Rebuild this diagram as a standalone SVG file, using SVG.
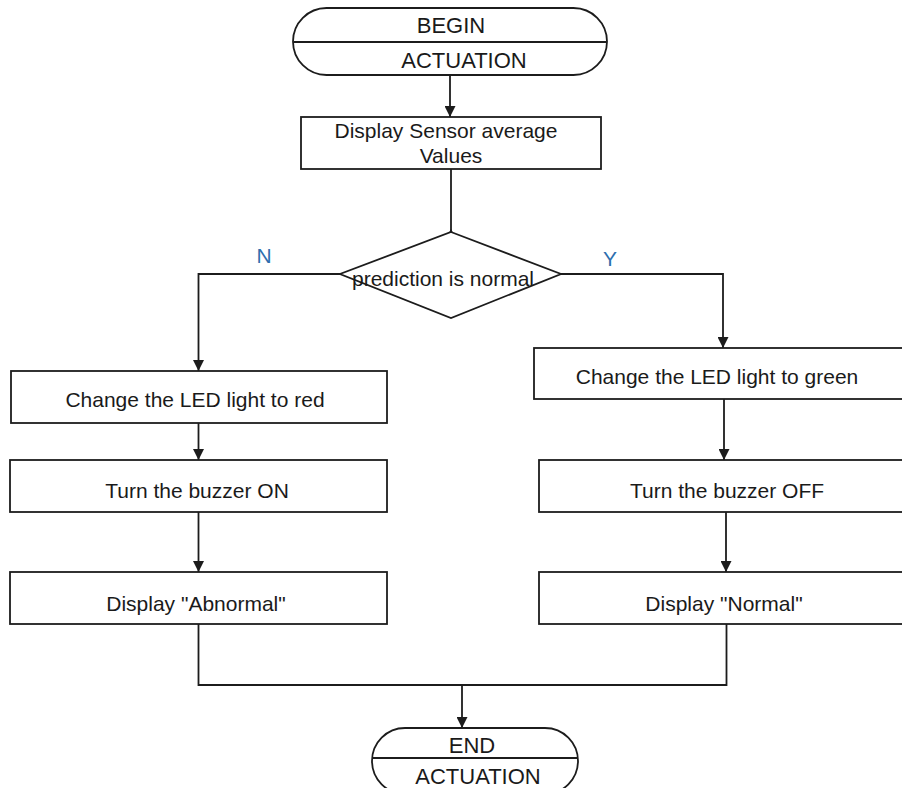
<svg xmlns="http://www.w3.org/2000/svg" width="902" height="788" viewBox="0 0 902 788">
  <style>
    .shape { fill: #ffffff; stroke: #1c1c1c; stroke-width: 1.8; }
    .line { fill: none; stroke: #1c1c1c; stroke-width: 1.8; }
    .txt { font-family: "Liberation Sans", Arial, sans-serif; font-size: 21px; fill: #1a1a1a; text-anchor: middle; }
    .term { font-size: 22px; }
    .yn { font-family: "Liberation Sans", Arial, sans-serif; font-size: 21px; fill: #2e6fae; text-anchor: middle; }
  </style>
  <defs>
    <marker id="arrow" viewBox="0 0 10 10" refX="10" refY="5" markerWidth="11" markerHeight="11" markerUnits="userSpaceOnUse" orient="auto">
      <path d="M0,0 L10,5 L0,10 z" fill="#1c1c1c"/>
    </marker>
  </defs>

  <rect width="902" height="788" fill="#ffffff"/>

  <!-- connectors -->
  <g id="connectors">
    <path class="line" d="M450,75 V117" marker-end="url(#arrow)"/>
    <path class="line" d="M451,169 V238"/>
    <polygon points="451,229 456.5,239 445.5,239" fill="#1c1c1c"/>
    <path class="line" d="M340,274 H198.5 V371" marker-end="url(#arrow)"/>
    <path class="line" d="M561,274 H723 V348" marker-end="url(#arrow)"/>
    <path class="line" d="M198.5,423 V460" marker-end="url(#arrow)"/>
    <path class="line" d="M198.5,512 V572" marker-end="url(#arrow)"/>
    <path class="line" d="M724,399 V460" marker-end="url(#arrow)"/>
    <path class="line" d="M726,512 V572" marker-end="url(#arrow)"/>
    <path class="line" d="M198.5,624 V685 H726.5 V624"/>
    <path class="line" d="M462,685 V728" marker-end="url(#arrow)"/>
    <text class="yn" x="264" y="263">N</text>
    <text class="yn" x="610" y="266">Y</text>
  </g>

  <!-- start terminal -->
  <g id="begin">
    <rect class="shape" x="293" y="8" width="314" height="67" rx="33.5" ry="33.5"/>
    <line class="line" x1="293.5" y1="42" x2="606.5" y2="42"/>
    <text class="txt term" x="451" y="33">BEGIN</text>
    <text class="txt term" x="464" y="68">ACTUATION</text>
  </g>

  <g id="display-values">
    <rect class="shape" x="301" y="117" width="300" height="52"/>
    <text class="txt" x="446" y="138">Display Sensor average</text>
    <text class="txt" x="451" y="163">Values</text>
  </g>

  <g id="decision">
    <polygon class="shape" points="451,232 561,274 451,318 340,274"/>
    <text class="txt" x="443" y="286">prediction is normal</text>
  </g>

  <g id="led-red">
    <rect class="shape" x="11" y="371" width="376" height="52"/>
    <text class="txt" x="195" y="407">Change the LED light to red</text>
  </g>

  <g id="buzzer-on">
    <rect class="shape" x="10" y="460" width="377" height="52"/>
    <text class="txt" x="197" y="498">Turn the buzzer ON</text>
  </g>

  <g id="show-abnormal">
    <rect class="shape" x="10" y="572" width="377" height="52"/>
    <text class="txt" x="196" y="611">Display "Abnormal"</text>
  </g>

  <g id="led-green">
    <rect class="shape" x="534" y="348" width="372" height="51"/>
    <text class="txt" x="717" y="384">Change the LED light to green</text>
  </g>

  <g id="buzzer-off">
    <rect class="shape" x="539" y="460" width="367" height="52"/>
    <text class="txt" x="727" y="498">Turn the buzzer OFF</text>
  </g>

  <g id="show-normal">
    <rect class="shape" x="539" y="572" width="367" height="52"/>
    <text class="txt" x="724" y="611">Display "Normal"</text>
  </g>

  <!-- end terminal -->
  <g id="end">
    <rect class="shape" x="372" y="728" width="206" height="66" rx="33" ry="33"/>
    <line class="line" x1="372.5" y1="758" x2="577.5" y2="758"/>
    <text class="txt term" x="472" y="753">END</text>
    <text class="txt term" x="478" y="784">ACTUATION</text>
  </g>
</svg>
